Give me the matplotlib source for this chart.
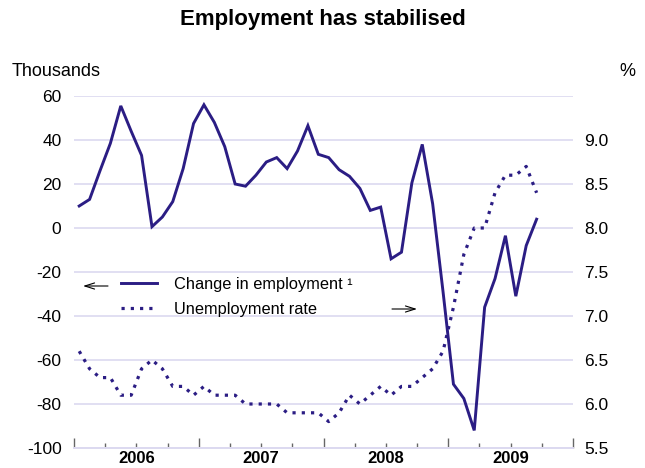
import numpy as np
import matplotlib
matplotlib.use('Agg')
import matplotlib.pyplot as plt
from matplotlib.lines import Line2D
from matplotlib.ticker import FixedLocator, FuncFormatter

# monthly data, Jan 2006 - Sep 2009
employment = [10, 13, 26, 38.5, 55.5, 44, 33, 0.6, 5, 12, 27, 47.5,
              56, 48, 37, 20, 19, 24, 30, 32, 27, 35, 46.5, 33.5,
              32, 26.5, 23.5, 18, 8, 9.5, -14, -11, 20.5, 38, 11, -29,
              -71, -77.5, -92, -36, -23, -3.5, -31, -8, 4]
unemployment = [6.6, 6.4, 6.3, 6.3, 6.1, 6.1, 6.4, 6.5, 6.4, 6.2, 6.2, 6.1,
                6.2, 6.1, 6.1, 6.1, 6.0, 6.0, 6.0, 6.0, 5.9, 5.9, 5.9, 5.9,
                5.8, 5.9, 6.1, 6.0, 6.1, 6.2, 6.1, 6.2, 6.2, 6.3, 6.4, 6.6,
                7.1, 7.7, 8.0, 8.0, 8.4, 8.6, 8.6, 8.7, 8.4]
years = ['2006', '2007', '2008', '2009']
left_ticks = [-100, -80, -60, -40, -20, 0, 20, 40, 60]
right_ticks = [5.5, 6.0, 6.5, 7.0, 7.5, 8.0, 8.5, 9.0]

navy = '#2b1d84'
grid_col = '#dcd9f0'
plt.rcParams['font.family'] = ['Liberation Sans', 'DejaVu Sans']
plt.rcParams['axes.unicode_minus'] = False

fig = plt.figure(figsize=(6.45, 4.68), dpi=100)
ax = fig.add_axes([74 / 645, 1 - 448 / 468, 499 / 645, 352 / 468])
ax2 = ax.twinx()

x = np.arange(len(employment)) + 0.5
ax.plot(x, employment, color=navy, lw=2.1, solid_joinstyle='miter', zorder=3)
ax2.plot(x, unemployment, color=navy, lw=2.3, linestyle=(0, (1.0, 1.9)),
         dash_capstyle='butt', zorder=3)

ax.set_xlim(0, 48)
ax.set_ylim(-100, 60)
ax2.set_ylim(5.5, 9.5)

ax.set_yticks(left_ticks)
ax.yaxis.grid(True, color=grid_col, lw=1.2)
ax.set_axisbelow(True)
ax.tick_params(axis='y', length=0, pad=9, labelsize=12.5)
ax2.set_yticks(right_ticks)
ax2.yaxis.set_major_formatter(FuncFormatter(lambda v, p: f'{v:.1f}'))
ax2.tick_params(axis='y', length=0, pad=8, labelsize=12.5)

ax.xaxis.set_major_locator(FixedLocator([0, 12, 24, 36, 48]))
ax.xaxis.set_minor_locator(FixedLocator([m for m in range(3, 48, 3) if m % 12]))
ax.xaxis.set_major_formatter(FuncFormatter(lambda v, p: ''))
ax.xaxis.set_minor_formatter(
    FuncFormatter(lambda v, p: years[int(v) // 12] if int(v) % 12 == 6 else ''))
ax.tick_params(axis='x', which='major', direction='in', length=7, width=1,
               color='#666666')
ax.tick_params(axis='x', which='minor', direction='in', length=3.5, width=1,
               color='#666666', pad=2.5, labelsize=12)
for lbl in ax.xaxis.get_minorticklabels():
    lbl.set_fontweight('bold')

for a in (ax, ax2):
    for s in ('top', 'left', 'right'):
        a.spines[s].set_visible(False)
    a.spines['bottom'].set_color(grid_col)
    a.spines['bottom'].set_linewidth(1.2)

handles = [Line2D([], [], color=navy, lw=2.1),
           Line2D([], [], color=navy, lw=2.3, linestyle=(0, (1.0, 1.9)))]
ax.legend(handles, ['Change in employment \u00b9', 'Unemployment rate'],
          loc='upper left', bbox_to_anchor=(121 / 645, 1 - 277 / 468),
          bbox_transform=fig.transFigure, frameon=False, fontsize=11.8,
          handlelength=2.2, handletextpad=1.05, labelspacing=0.62,
          borderpad=0, borderaxespad=0)

arrow = dict(arrowstyle='->,head_length=0.7,head_width=0.22', color='black',
             lw=0.8, shrinkA=0, shrinkB=0)
ax.annotate('', xy=(83 / 645, 1 - 286 / 468), xytext=(108 / 645, 1 - 286 / 468),
            xycoords='figure fraction', arrowprops=arrow)
ax.annotate('', xy=(417 / 645, 1 - 309 / 468), xytext=(392 / 645, 1 - 309 / 468),
            xycoords='figure fraction', arrowprops=arrow)

fig.text(0.5, 1 - 20 / 468, 'Employment has stabilised', ha='center',
         va='center', fontsize=16, fontweight='bold')
fig.text(12 / 645, 1 - 72 / 468, 'Thousands', ha='left', va='center',
         fontsize=13)
fig.text(627 / 645, 1 - 72 / 468, '%', ha='center', va='center', fontsize=13)

fig.savefig('out.png', dpi=100)
